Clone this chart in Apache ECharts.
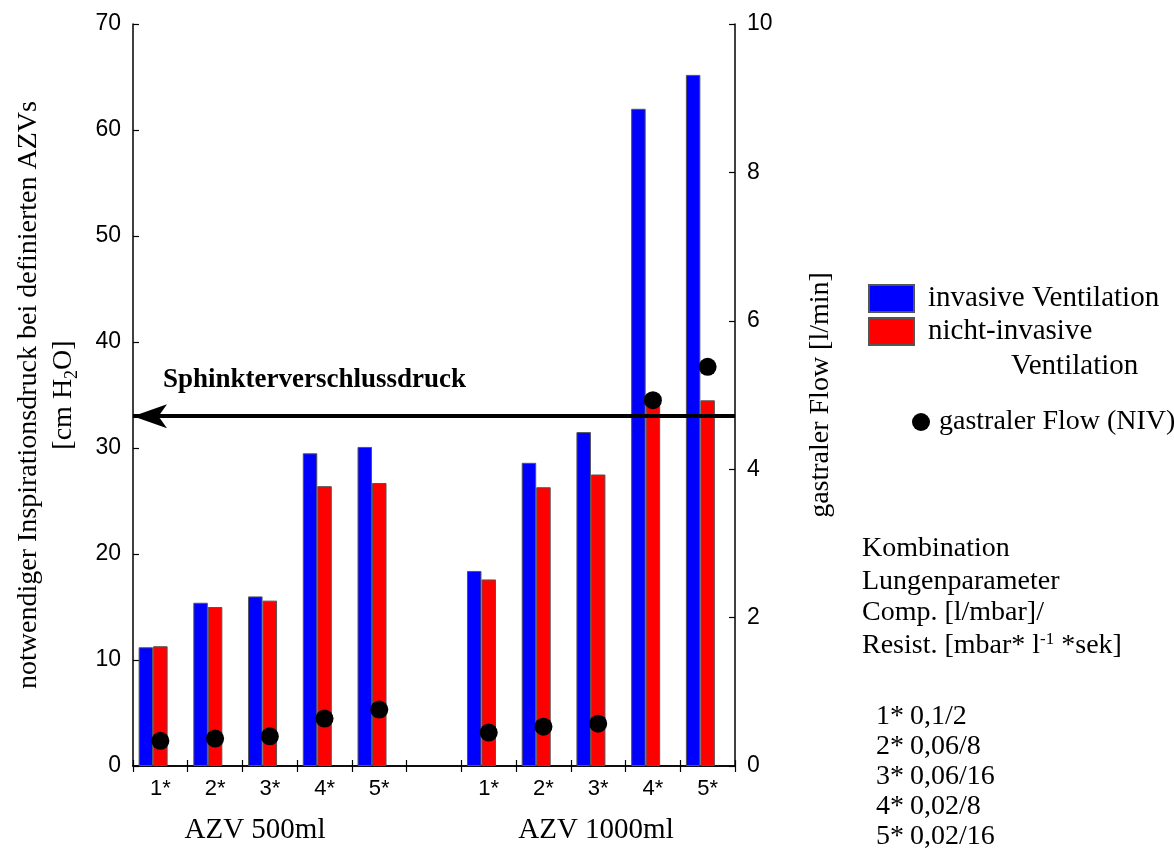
<!DOCTYPE html>
<html><head><meta charset="utf-8">
<script src="https://cdn.jsdelivr.net/npm/echarts@6/dist/echarts.min.js"></script>
<style>html,body{margin:0;padding:0;background:#fff}#c{width:1174px;height:868px}</style>
</head><body><div id="c"></div>
<script>
// ---- data ----
const categories = ['1*','2*','3*','4*','5*','','1*','2*','3*','4*','5*'];
const invasive = [11.2, 15.4, 16.0, 29.5, 30.1, null, 18.4, 28.6, 31.5, 62.0, 65.2];
const nichtInvasive = [11.3, 15.0, 15.6, 26.4, 26.7, null, 17.6, 26.3, 27.5, 34.3, 34.5];
const gastralFlow = [0.34, 0.37, 0.40, 0.64, 0.76, null, 0.45, 0.53, 0.57, 4.93, 5.38];
const spacer = [null, null, null, null, null, null, null, null, null, null, null];
const leftAxis = {min: 0, max: 70, interval: 10};
const rightAxis = {min: 0, max: 10, interval: 2};
const sphinkterDruck = 33;
const seriesNames = ['invasive Ventilation', 'nicht-invasive Ventilation', 'gastraler Flow (NIV)'];
const legendLabels = {'nicht-invasive Ventilation': 'nicht-invasive'};
const legendSecondLine = 'Ventilation';
const groupLabels = ['AZV 500ml', 'AZV 1000ml'];
const markLineText = 'Sphinkterverschlussdruck';
const leftTitle = 'notwendiger Inspirationsdruck bei definierten AZVs\n[cm H{sub|2}O]';
const rightTitle = 'gastraler Flow [l/min]';
const kombiHeader = ['Kombination', 'Lungenparameter', 'Comp. [l/mbar]/', 'Resist. [mbar* l{sup|-1} *sek]'];
const kombiKeys = ['1*', '2*', '3*', '4*', '5*'];
const kombiValues = ['0,1/2', '0,06/8', '0,06/16', '0,02/8', '0,02/16'];

// ---- styles ----
const SERIF = 'Liberation Serif';
const SANS = 'Liberation Sans';
const BLACK = '#000';
const serifText = (size, weight) => ({fontFamily: SERIF, fontSize: size, fontWeight: weight || 'normal', fill: BLACK});

const chart = echarts.init(document.getElementById('c'), null, {renderer: 'canvas'});

const axisLine = {show: true, lineStyle: {color: BLACK, width: 1.5}};
const axisTick = {show: true, inside: true, length: 6, lineStyle: {color: BLACK, width: 1.2}};

const graphics = [];
graphics.push({type: 'text', left: 163, top: 367, style: Object.assign({text: markLineText}, serifText(27, 'bold'))});
graphics.push({type: 'text', x: 255, y: 830, style: Object.assign({text: groupLabels[0], align: 'center', verticalAlign: 'middle'}, serifText(29))});
graphics.push({type: 'text', x: 596, y: 830, style: Object.assign({text: groupLabels[1], align: 'center', verticalAlign: 'middle'}, serifText(29))});
graphics.push({type: 'text', x: 1011, y: 366, style: Object.assign({text: legendSecondLine, verticalAlign: 'middle'}, serifText(29))});
const headerY = [549, 582, 613, 646];
kombiHeader.forEach((t, i) => {
  graphics.push({type: 'text', x: 862, y: headerY[i], style: Object.assign({text: t, verticalAlign: 'middle',
    rich: {sup: {fontFamily: SERIF, fontSize: 17, verticalAlign: 'top', lineHeight: 30, fill: BLACK}}}, serifText(28))});
});
const listY = [717, 747, 777, 807, 837];
kombiKeys.forEach((k, i) => {
  graphics.push({type: 'text', x: 876, y: listY[i], style: Object.assign({text: k, verticalAlign: 'middle'}, serifText(28))});
  graphics.push({type: 'text', x: 910, y: listY[i], style: Object.assign({text: kombiValues[i], verticalAlign: 'middle'}, serifText(28))});
});

const option = {
  animation: false,
  backgroundColor: '#fff',
  grid: {left: 133, right: 439, top: 24, bottom: 102, containLabel: false},
  legend: [
    {
      data: [seriesNames[0], seriesNames[1]], orient: 'vertical', left: 868, top: 284, padding: 0,
      itemWidth: 45, itemHeight: 27, itemGap: 4, icon: 'rect',
      formatter: n => legendLabels[n] || n,
      textStyle: {fontFamily: SERIF, fontSize: 29, color: BLACK, lineHeight: 27, padding: [0, 0, 0, 9]}
    },
    {
      data: [seriesNames[2]], orient: 'vertical', left: 912, top: 408, padding: 0,
      itemWidth: 18, itemHeight: 18, icon: 'circle',
      textStyle: {fontFamily: SERIF, fontSize: 28, color: BLACK, lineHeight: 27, padding: [0, 0, 0, 4]}
    }
  ],
  xAxis: [
    {type: 'category', data: categories, position: 'bottom', axisLine, axisTick,
      axisLabel: {interval: 0, fontFamily: SANS, fontSize: 22, color: BLACK, margin: 12}},
    {type: 'category', data: categories, position: 'top', axisLine, axisTick, axisLabel: {show: false}}
  ],
  yAxis: [
    {type: 'value', position: 'left', min: leftAxis.min, max: leftAxis.max, interval: leftAxis.interval,
      axisLine, axisTick, splitLine: {show: false},
      axisLabel: {fontFamily: SANS, fontSize: 23, color: BLACK, margin: 12},
      name: leftTitle, nameLocation: 'middle', nameRotate: 90, nameGap: 52,
      nameTextStyle: {fontFamily: SERIF, fontSize: 28, color: BLACK, lineHeight: 35,
        rich: {sub: {fontFamily: SERIF, fontSize: 18, color: BLACK, verticalAlign: 'bottom', lineHeight: 35}}}},
    {type: 'value', position: 'right', min: rightAxis.min, max: rightAxis.max, interval: rightAxis.interval,
      axisLine, axisTick, splitLine: {show: false},
      axisLabel: {fontFamily: SANS, fontSize: 23, color: BLACK, margin: 12},
      name: rightTitle, nameLocation: 'middle', nameRotate: 90, nameGap: 72,
      nameTextStyle: {fontFamily: SERIF, fontSize: 28, color: BLACK}}
  ],
  series: [
    {name: seriesNames[0], type: 'bar', data: invasive, barWidth: 14.5, barGap: '0%',
      itemStyle: {color: '#0000ff', borderColor: '#555', borderWidth: 1},
      markLine: {silent: true, symbol: ['arrow', 'none'], symbolSize: [18, 34], symbolOffset: [0, 14],
        lineStyle: {color: BLACK, width: 4, type: 'solid'}, label: {show: false},
        data: [{yAxis: sphinkterDruck}]}},
    {name: seriesNames[1], type: 'bar', data: nichtInvasive, barWidth: 14.5, barGap: '0%',
      itemStyle: {color: '#ff0000', borderColor: '#555', borderWidth: 1}},
    {name: 'spacer', type: 'bar', data: spacer, barWidth: 14.5, barGap: '0%', itemStyle: {color: 'transparent'}},
    {name: seriesNames[2], type: 'scatter', yAxisIndex: 1, data: gastralFlow, symbol: 'circle', symbolSize: 18,
      itemStyle: {color: BLACK, opacity: 1}, z: 6}
  ],
  graphic: graphics
};
chart.setOption(option);
</script></body></html>
